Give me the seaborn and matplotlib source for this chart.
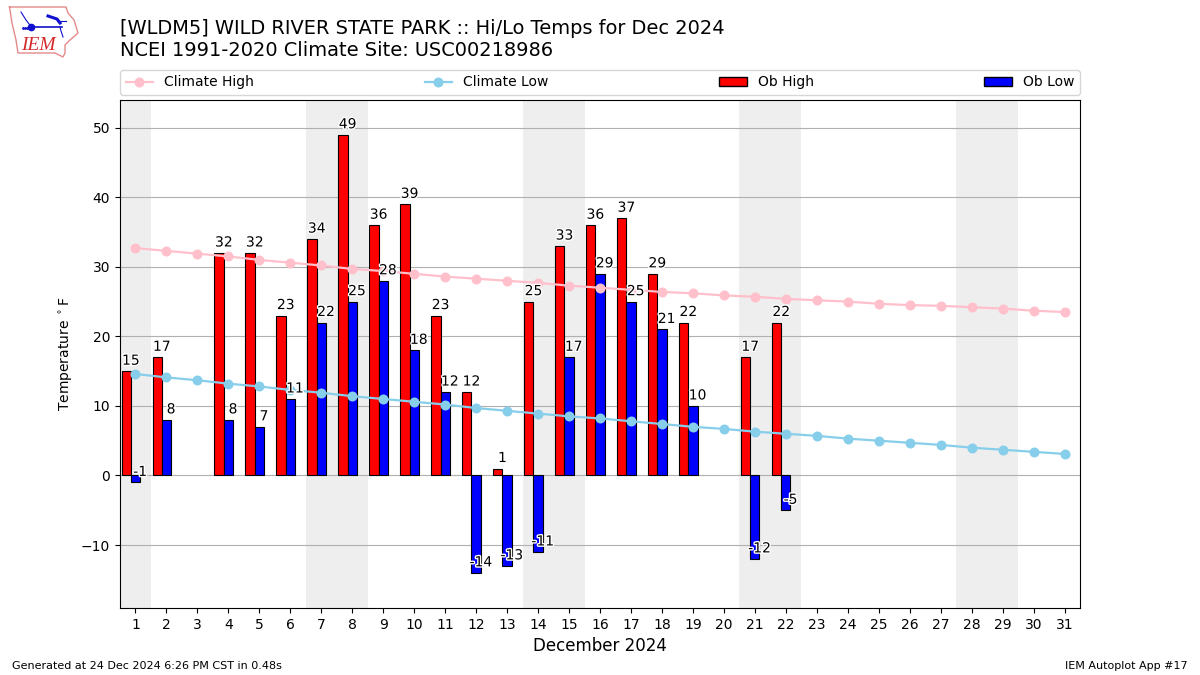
"""IEM autoplot 17: daily hi/lo temps against climatology for Dec 2024."""

import matplotlib.patheffects as PathEffects
import matplotlib.pyplot as plt
import numpy as np
import pandas as pd
import seaborn as sns
from matplotlib.lines import Line2D
from matplotlib.patches import Patch

days = list(range(1, 32))
ob_high = [15, 17, np.nan, 32, 32, 23, 34, 49, 36, 39, 23, 12, 1, 25, 33, 36, 37, 29, 22, np.nan, 17, 22]
ob_low = [-1, 8, np.nan, 8, 7, 11, 22, 25, 28, 18, 12, -14, -13, -11, 17, 29, 25, 21, 10, np.nan, -12, -5]
climate_high = [32.7, 32.3, 31.9, 31.5, 31.0, 30.6, 30.2, 29.7, 29.4, 29.0, 28.6, 28.3, 28.0, 27.7, 27.3, 27.0,
                26.7, 26.4, 26.2, 25.9, 25.7, 25.4, 25.2, 25.0, 24.7, 24.5, 24.4, 24.2, 24.0, 23.7, 23.5]
climate_low = [14.6, 14.1, 13.7, 13.2, 12.8, 12.3, 11.9, 11.4, 11.0, 10.6, 10.2, 9.7, 9.3, 8.9, 8.5, 8.2,
               7.8, 7.4, 7.0, 6.7, 6.3, 6.0, 5.7, 5.3, 5.0, 4.7, 4.4, 4.0, 3.7, 3.4, 3.1]
weekends = [(0.5, 1.5), (6.5, 8.5), (13.5, 15.5), (20.5, 22.5), (27.5, 29.5)]
y_ticks = [-10, 0, 10, 20, 30, 40, 50]

BAR_WIDTH = 0.3


def draw_logo(fig):
    # rough copy of the IEM logo, drawn in pixels of the top left corner
    logo = fig.add_axes([0, 1 - 60 / 675, 100 / 1200, 60 / 675])
    logo.set_xlim(0, 100)
    logo.set_ylim(60, 0)
    logo.axis("off")
    outline_x = [9.5, 66, 68, 74, 78, 70, 65, 65, 63, 55, 18, 16, 12, 9.5]
    outline_y = [7, 7, 13, 20, 33, 40, 45, 53, 57, 53, 53, 40, 23, 7]
    logo.plot(outline_x, outline_y, color="#e58a8a", lw=1)
    logo.plot([31, 62], [26.5, 26.5], color="#1010d0", lw=1.2)
    logo.plot([31], [26.5], "o", color="#1010d0", ms=4.5)
    logo.plot([21, 26, 31], [12, 20, 26.5], color="#1010d0", lw=0.8)
    logo.plot([48, 57, 60], [16, 19, 23], color="#1010d0", lw=2.2)
    logo.plot([57, 66], [21, 21], color="#1010d0", lw=0.8)
    logo.plot([60, 61, 63], [27, 31, 37], color="#1010d0", lw=0.8)
    logo.plot([23, 25, 27], [28, 28, 28], ".", color="#1010d0", ms=2)
    logo.text(21, 45, "IEM", color="#d42a2a", fontsize=14, family="Liberation Serif", style="italic",
              va="center", ha="left")


def label_bars(ax, xs, values):
    for x, value in zip(xs, values):
        if np.isnan(value):
            continue
        ax.text(x, value + 0.5, f"{value:.0f}", ha="center", va="bottom", fontsize=10, zorder=6,
                path_effects=[PathEffects.withStroke(linewidth=2, foreground="white")])


def main():
    highs = pd.DataFrame({"day": days[: len(ob_high)], "temp": ob_high}).dropna()
    lows = pd.DataFrame({"day": days[: len(ob_low)], "temp": ob_low}).dropna()
    climate = pd.DataFrame({"day": days, "high": climate_high, "low": climate_low})

    fig = plt.figure(figsize=(12, 6.75), dpi=100)
    ax = fig.add_axes([0.1, 1 - 608 / 675, 0.8, 508 / 675])

    for start, end in weekends:
        ax.axvspan(start, end, color="#eeeeee", zorder=0, lw=0)

    sns.barplot(data=highs.assign(pos=highs["day"] - BAR_WIDTH), x="pos", y="temp", native_scale=True,
                width=BAR_WIDTH, color="red", saturation=1, edgecolor="black", linewidth=0.8, errorbar=None,
                ax=ax, zorder=3)
    sns.barplot(data=lows, x="day", y="temp", native_scale=True, width=BAR_WIDTH, color="blue", saturation=1,
                edgecolor="black", linewidth=0.8, errorbar=None, ax=ax, zorder=3)

    sns.lineplot(data=climate, x="day", y="high", color="pink", marker="o", markersize=7.2, markeredgewidth=0,
                 linewidth=1.6, errorbar=None, ax=ax, zorder=4)
    sns.lineplot(data=climate, x="day", y="low", color="skyblue", marker="o", markersize=7.2, markeredgewidth=0,
                 linewidth=1.6, errorbar=None, ax=ax, zorder=4)

    label_bars(ax, [d - 0.15 for d in days[: len(ob_high)]], ob_high)
    label_bars(ax, [d + 0.15 for d in days[: len(ob_low)]], ob_low)

    ax.set_xlim(0.5, 31.5)
    ax.set_ylim(-19.06, 54.0)
    ax.set_xticks(days)
    ax.set_xticklabels([str(d) for d in days])
    ax.set_yticks(y_ticks)
    ax.set_yticklabels([str(t).replace("-", "\u2212") for t in y_ticks])
    ax.yaxis.grid(True, color="#b0b0b0", lw=0.8, zorder=1)
    ax.set_axisbelow(True)
    ax.set_xlabel("December 2024", fontsize=12)
    ax.set_ylabel(r"Temperature $^\circ$F")

    handles = [
        Line2D([], [], color="pink", marker="o", ms=7.2, mew=0, lw=1.6, label="Climate High"),
        Line2D([], [], color="skyblue", marker="o", ms=7.2, mew=0, lw=1.6, label="Climate Low"),
        Patch(facecolor="red", edgecolor="black", label="Ob High"),
        Patch(facecolor="blue", edgecolor="black", label="Ob Low"),
    ]
    ax.legend(handles=handles, ncol=4, mode="expand", loc="lower left", bbox_to_anchor=(0, 1.01, 1, 0.1),
              borderaxespad=0, fontsize=10)

    fig.text(0.1, 1 - 19 / 675, "[WLDM5] WILD RIVER STATE PARK :: Hi/Lo Temps for Dec 2024\n"
             "NCEI 1991-2020 Climate Site: USC00218986", fontsize=13.97, va="top", ha="left")
    fig.text(0.01, 1 - 666 / 675, "Generated at 24 Dec 2024 6:26 PM CST in 0.48s", fontsize=8, va="center")
    fig.text(0.99, 1 - 666 / 675, "IEM Autoplot App #17", fontsize=8, va="center", ha="right")
    draw_logo(fig)

    fig.savefig("out.png", dpi=100)
    plt.close(fig)


if __name__ == "__main__":
    main()
